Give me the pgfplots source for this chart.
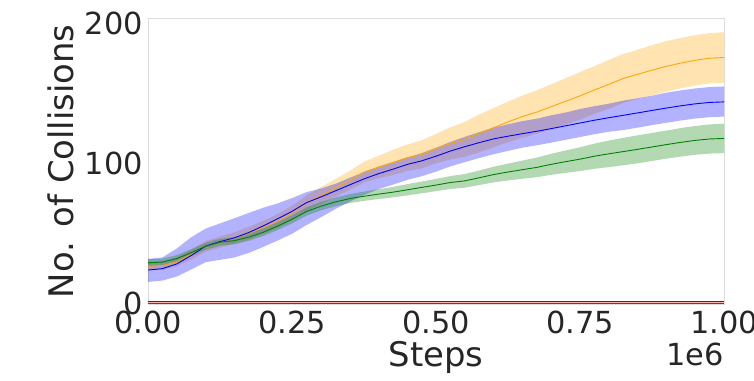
\documentclass[border=0pt]{standalone}
\usepackage{pgfplots}
\pgfplotsset{compat=1.18}
\usepackage{pgfplotstable}
\usepgfplotslibrary{fillbetween}
\usepackage{fontspec}
\setmainfont{DejaVu Sans}
\definecolor{txt}{HTML}{262626}
\definecolor{spine}{HTML}{DDDDDD}
\definecolor{mplorange}{HTML}{FFA500}
\definecolor{mplgreen}{HTML}{008000}
\definecolor{mplblue}{HTML}{0000FF}
\definecolor{mplpurple}{HTML}{800080}
\definecolor{mplred}{HTML}{FF0000}

% om/os: orange mean/half-width; bm: blue mean, bl/bu: distances to lower/upper edge; gm/gs: green
\pgfplotstableread{
x     om    os   bm    bl   bu   gm    gs
0.000 26.4  3.0  23.6  8.5  8.0  28.8  2.5
0.025 26.8  3.0  24.6  8.5  8.0  29.3  2.5
0.050 29.5  3.2  28.0  9.0 11.0  31.8  2.5
0.075 34.6  3.5  34.0 10.0 13.0  36.0  2.5
0.100 40.5  3.8  40.7 11.5 12.5  40.6  2.5
0.125 43.6  4.0  43.9 13.0 13.0  43.5  2.5
0.150 46.4  4.2  46.6 14.0 14.0  44.6  2.5
0.175 49.9  4.5  50.4 14.5 14.0  47.1  2.6
0.200 54.0  4.8  55.1 15.0 13.0  50.6  2.7
0.225 58.6  5.0  60.2 15.5 11.0  55.0  2.8
0.250 64.3  5.2  65.5 16.0  9.5  59.8  2.9
0.275 71.3  5.5  71.7 16.0  7.5  65.4  3.0
0.300 76.9  6.0  75.8 14.5  6.0  69.2  3.0
0.325 82.2  6.3  80.1 13.0  5.0  72.2  3.1
0.350 87.6  6.8  84.4 12.0  5.0  74.6  3.2
0.375 93.5  7.5  88.7 11.5  5.0  76.3  3.3
0.400 97.1  8.0  92.4 11.0  5.0  77.8  3.5
0.425 100.4 9.0  95.6 11.0  5.0  79.2  3.7
0.450 103.8 9.5  99.0 11.0  5.0  80.9  4.0
0.475 106.2 10.0 101.6 11.0 5.5  82.6  4.2
0.500 110.4 10.5 104.9 11.0 6.0  84.3  4.4
0.525 114.0 11.5 108.6 11.0 6.5  86.1  4.6
0.550 117.0 12.5 111.7 11.0 7.0  87.3  4.9
0.575 121.2 13.5 114.6 11.0 7.5  89.5  5.2
0.600 125.3 14.0 117.3 11.0 8.0  91.8  5.6
0.625 129.4 14.5 119.2 10.5 8.5  93.6  6.0
0.650 133.2 15.0 121.0 10.0 9.0  95.3  6.5
0.675 136.4 15.5 122.7 10.0 9.0  96.9  7.0
0.700 140.3 16.0 124.6 10.0 9.5  99.1  7.5
0.725 144.1 16.5 126.6 10.0 9.5  101.0 8.0
0.750 148.0 17.0 128.6 10.0 10.0 102.8 8.5
0.775 152.2 17.0 130.6 10.0 10.0 104.9 9.0
0.800 156.2 17.5 132.4 10.0 10.0 106.6 9.5
0.825 160.4 17.5 134.1 10.5 10.5 108.2 9.8
0.850 163.4 17.5 135.8 10.5 10.5 109.8 10.0
0.875 166.3 18.0 137.6 10.5 10.5 111.5 10.0
0.900 169.1 18.0 139.3 10.5 11.0 113.2 10.0
0.925 171.4 18.0 140.9 10.5 11.0 114.8 10.2
0.950 173.4 18.0 142.3 10.5 11.0 116.2 10.3
0.975 174.9 18.0 143.3 10.5 11.0 117.2 10.4
1.000 175.4 18.0 143.7 10.5 11.0 117.6 10.5
}\data

\pgfplotstableread{
x   rm   rs   pm   ps
0.0 0.0  0.7  1.1  0.5
1.0 0.0  0.7  1.1  0.5
}\low

\begin{document}
\begin{tikzpicture}
\begin{axis}[
  name=ax,
  at={(148bp,76.5bp)}, anchor=south west,
  scale only axis, width=576bp, height=286.5bp,
  xmin=0, xmax=1, ymin=-1, ymax=203.6,
  xtick={0,0.25,0.5,0.75,1},
  xticklabels={0.00,0.25,0.50,0.75,1.00},
  ytick={0,100,200},
  major tick length=0pt,
  axis line style={spine, line width=0.8bp},
  /pgf/number format/assume math mode=true,
  tick label style={font=\fontsize{30.5}{36}\selectfont, text=txt},
  xticklabel style={anchor=base, inner sep=0pt, yshift=-29bp},
  yticklabel style={anchor=east, inner sep=0pt, xshift=-5bp},
  xlabel={Steps}, ylabel={No. of Collisions},
  label style={font=\fontsize{34}{40}\selectfont, text=txt},
  xlabel style={at={(axis description cs:0.5,-0.218)}, anchor=base},
  ylabel style={at={(axis description cs:-0.151,0.5)}, anchor=center},
]
% orange
\addplot[draw=none, name path=ou, forget plot] table[x=x, y expr=\thisrow{om}+\thisrow{os}] {\data};
\addplot[draw=none, name path=ol, forget plot] table[x=x, y expr=\thisrow{om}-\thisrow{os}] {\data};
\addplot[fill=mplorange, fill opacity=0.3, draw=none, forget plot] fill between[of=ou and ol];
% blue
\addplot[draw=none, name path=bu, forget plot] table[x=x, y expr=\thisrow{bm}+\thisrow{bu}] {\data};
\addplot[draw=none, name path=bl, forget plot] table[x=x, y expr=\thisrow{bm}-\thisrow{bl}] {\data};
\addplot[fill=mplblue, fill opacity=0.3, draw=none, forget plot] fill between[of=bu and bl];
% green
\addplot[draw=none, name path=gu, forget plot] table[x=x, y expr=\thisrow{gm}+\thisrow{gs}] {\data};
\addplot[draw=none, name path=gl, forget plot] table[x=x, y expr=\thisrow{gm}-\thisrow{gs}] {\data};
\addplot[fill=mplgreen, fill opacity=0.3, draw=none, forget plot] fill between[of=gu and gl];
% low bands
\addplot[draw=none, name path=ru, forget plot] table[x=x, y expr=\thisrow{rm}+\thisrow{rs}] {\low};
\addplot[draw=none, name path=rl, forget plot] table[x=x, y expr=\thisrow{rm}-\thisrow{rs}] {\low};
\addplot[fill=mplred, fill opacity=0.3, draw=none, forget plot] fill between[of=ru and rl];
\addplot[draw=none, name path=pu, forget plot] table[x=x, y expr=\thisrow{pm}+\thisrow{ps}] {\low};
\addplot[draw=none, name path=pl, forget plot] table[x=x, y expr=\thisrow{pm}-\thisrow{ps}] {\low};
\addplot[fill=mplpurple, fill opacity=0.3, draw=none, forget plot] fill between[of=pu and pl];
% lines
\addplot[mplorange, line width=0.9bp, mark=none] table[x=x, y=om] {\data};
\addplot[mplblue, line width=0.9bp, mark=none] table[x=x, y=bm] {\data};
\addplot[mplgreen, line width=0.9bp, mark=none] table[x=x, y=gm] {\data};
\addplot[mplred, line width=0.9bp, mark=none] table[x=x, y=rm] {\low};
\addplot[mplpurple, line width=0.9bp, mark=none] table[x=x, y=pm] {\low};
\end{axis}
\node[anchor=base east, inner sep=0pt, text=txt, font=\fontsize{30.5}{36}\selectfont] at ([yshift=-61bp]ax.south east) {1e6};
\pgfresetboundingbox
\path[use as bounding box] (0,0) rectangle (754bp,381bp);
\end{tikzpicture}
\end{document}
